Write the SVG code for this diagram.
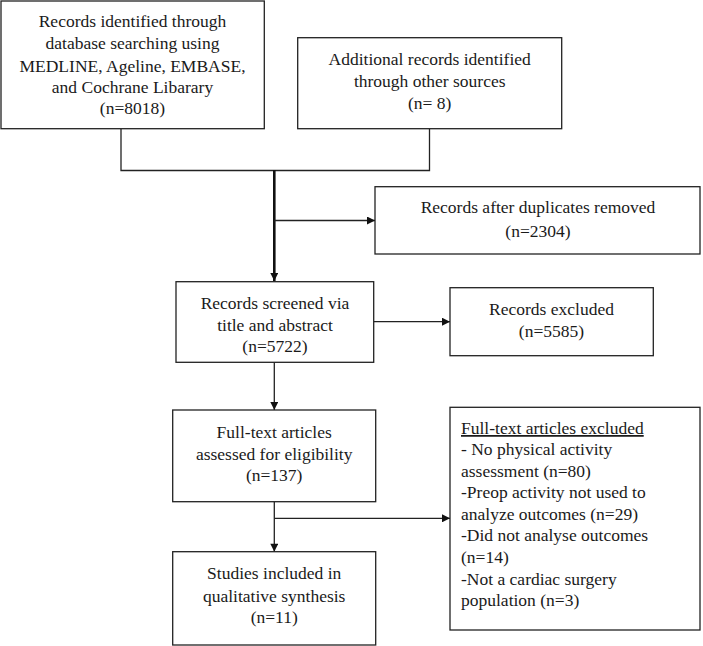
<svg xmlns="http://www.w3.org/2000/svg" width="703" height="646" viewBox="0 0 703 646">
<style>
.box{fill:#fff;stroke:#222;stroke-width:1.3}
text{font-family:"Liberation Serif","Times New Roman",serif;font-size:17.5px;fill:#1a1a1a}
.c{text-anchor:middle}
.ln{fill:none;stroke:#222;stroke-width:1.3}
.thick{fill:none;stroke:#111;stroke-width:2.6}
</style>
<defs>
<marker id="ah" viewBox="0 0 10 10" refX="10" refY="5" markerWidth="9" markerHeight="8" markerUnits="userSpaceOnUse" orient="auto"><path d="M0,0 L10,5 L0,10 z" fill="#111"/></marker>
</defs>
<rect width="703" height="646" fill="#fff"/>
<g id="connectors">
<polyline class="ln" points="121,129 121,170.5 429.5,170.5 429.5,129"/>
<line class="thick" x1="274.3" y1="170" x2="274.3" y2="281" marker-end="url(#ah)"/>
<line class="ln" x1="274.3" y1="220.5" x2="375" y2="220.5" marker-end="url(#ah)"/>
<line class="ln" x1="373.7" y1="321.7" x2="450" y2="321.7" marker-end="url(#ah)"/>
<line class="ln" x1="274.3" y1="362.3" x2="274.3" y2="410" marker-end="url(#ah)"/>
<line class="ln" x1="274.3" y1="501.7" x2="274.3" y2="551.7" marker-end="url(#ah)"/>
<line class="ln" x1="274.3" y1="518.3" x2="450" y2="518.3" marker-end="url(#ah)"/>
</g>
<g id="n1">
<rect class="box" x="1" y="1" width="263.3" height="127.7"/>
<text class="c" x="132.5" y="26.7">Records identified  through</text>
<text class="c" x="132.5" y="49.3">database searching  using</text>
<text class="c" x="132.5" y="71.7">MEDLINE, Ageline,  EMBASE,</text>
<text class="c" x="132.5" y="93.3">and Cochrane  Libarary</text>
<text class="c" x="132.5" y="114">(n=8018)</text>
</g>
<g id="n2">
<rect class="box" x="297.7" y="37.7" width="264" height="91"/>
<text class="c" x="429.7" y="65">Additional  records identified</text>
<text class="c" x="429.7" y="87.3">through  other  sources</text>
<text class="c" x="429.7" y="109">(n= 8)</text>
</g>
<g id="n3">
<rect class="box" x="375" y="186.7" width="325" height="67.3"/>
<text class="c" x="538" y="213.3">Records after  duplicates  removed</text>
<text class="c" x="538" y="236.7">(n=2304)</text>
</g>
<g id="n4">
<rect class="box" x="176" y="281.7" width="197.7" height="80.6"/>
<text class="c" x="275" y="309.3">Records screened via</text>
<text class="c" x="275" y="331">title  and abstract</text>
<text class="c" x="275" y="351.7">(n=5722)</text>
</g>
<g id="n5">
<rect class="box" x="450" y="287.7" width="203.3" height="68"/>
<text class="c" x="551.5" y="315">Records excluded</text>
<text class="c" x="551.5" y="336.7">(n=5585)</text>
</g>
<g id="n6">
<rect class="box" x="172.7" y="410" width="203" height="91.7"/>
<text class="c" x="274.2" y="438">Full-text  articles</text>
<text class="c" x="274.2" y="460">assessed for eligibility</text>
<text class="c" x="274.2" y="481">(n=137)</text>
</g>
<g id="n7">
<rect class="box" x="172.7" y="551.7" width="203" height="93.3"/>
<text class="c" x="274.2" y="579">Studies included  in</text>
<text class="c" x="274.2" y="601.7">qualitative  synthesis</text>
<text class="c" x="274.2" y="623">(n=11)</text>
</g>
<g id="n8">
<rect class="box" x="450" y="407.3" width="250" height="222.7"/>
<text x="461" y="434" text-decoration="underline">Full-text  articles  excluded</text>
<text x="461" y="455">- No physical  activity</text>
<text x="461" y="476.7">assessment  (n=80)</text>
<text x="461" y="498.3">-Preop activity  not used to</text>
<text x="461" y="520">analyze  outcomes  (n=29)</text>
<text x="461" y="540.7">-Did not analyse  outcomes</text>
<text x="461" y="563.3">(n=14)</text>
<text x="461" y="585">-Not a cardiac  surgery</text>
<text x="461" y="606">population  (n=3)</text>
</g>
</svg>
